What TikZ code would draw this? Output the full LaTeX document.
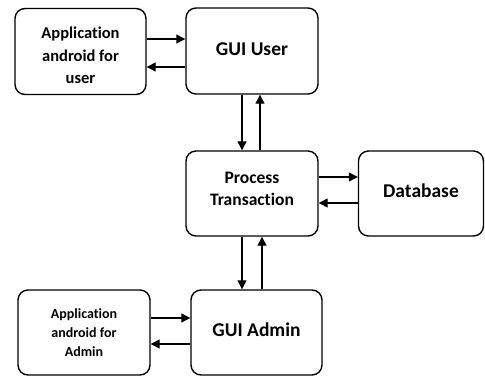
\documentclass[tikz,border=0pt]{standalone}
\usepackage{fontspec}
\setmainfont{Carlito}[Ligatures={NoCommon}]
\usetikzlibrary{arrows.meta}
\tikzset{
  blk/.style={draw=black, line width=1.4pt, rounded corners=10pt, inner sep=0pt},
  txt/.style={align=center, inner sep=0pt},
  big/.style={font=\fontsize{19.5}{22}\selectfont\bfseries},
  mid/.style={font=\fontsize{17.5}{22}\selectfont\bfseries},
  sml/.style={font=\fontsize{16.5}{22.5}\selectfont\bfseries},
  tiny/.style={font=\fontsize{14}{19}\selectfont\bfseries},
  arr/.style={-{Triangle[length=9pt,width=9pt]}, line width=1.3pt}
}
\begin{document}
\begin{tikzpicture}[x=1pt,y=-1pt]
\useasboundingbox (0,0) rectangle (485,377);
\node[blk,minimum width=131pt,minimum height=86pt] (A) at (80.5,51.5) {};
\node[blk,minimum width=132pt,minimum height=86pt] (B) at (252,51) {};
\node[blk,minimum width=132pt,minimum height=85pt] (C) at (252,193.5) {};
\node[blk,minimum width=125pt,minimum height=85pt] (D) at (421,193.5) {};
\node[blk,minimum width=132pt,minimum height=85pt] (E) at (84,332.5) {};
\node[blk,minimum width=131pt,minimum height=85pt] (F) at (256.5,332.5) {};
\node[txt,sml] (At) at ([yshift=-4pt]A.center) {Application\\android for\\user};
\node[txt,big] (Bt) at ([yshift=2pt]B.center) {GUI User};
\node[txt,mid] (Ct) at ([yshift=5pt]C.center) {Process\\Transaction};
\node[txt,big] (Dt) at ([yshift=3pt]D.center) {Database};
\node[txt,tiny] (Et) at ([yshift=0pt]E.center) {Application\\android for\\Admin};
\node[txt,big] (Ft) at ([yshift=3pt]F.center) {GUI Admin};
% A <-> B
\draw[arr] ([yshift=12.5pt]A.east) -- ([yshift=12.5pt]A.east -| B.west);
\draw[arr] ([yshift=-16pt]B.west) -- ([yshift=-16pt]B.west -| A.east);
% B <-> C
\draw[arr] ([xshift=-10pt]B.south) -- ([xshift=-10pt]B.south |- C.north);
\draw[arr] ([xshift=8pt]C.north) -- ([xshift=8pt]C.north |- B.south);
% C <-> D
\draw[arr] ([yshift=16.5pt]C.east) -- ([yshift=16.5pt]C.east -| D.west);
\draw[arr] ([yshift=-9.5pt]D.west) -- ([yshift=-9.5pt]D.west -| C.east);
% C <-> F
\draw[arr] ([xshift=-10pt]C.south) -- ([xshift=-10pt]C.south |- F.north);
\draw[arr] ([xshift=5.5pt]F.north) -- ([xshift=5.5pt]F.north |- C.south);
% E <-> F
\draw[arr] ([yshift=14.5pt]E.east) -- ([yshift=14.5pt]E.east -| F.west);
\draw[arr] ([yshift=-11.5pt]F.west) -- ([yshift=-11.5pt]F.west -| E.east);
\end{tikzpicture}
\end{document}
